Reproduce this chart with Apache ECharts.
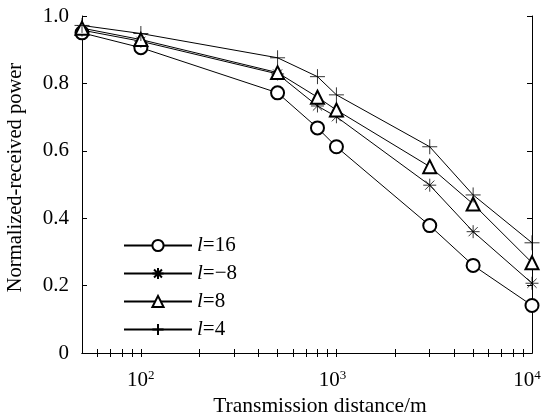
<!DOCTYPE html>
<html>
<head>
<meta charset="utf-8">
<script src="https://cdn.jsdelivr.net/npm/echarts@6/dist/echarts.min.js"></script>
<style>html,body{margin:0;padding:0;background:#fff;}#c{width:542px;height:417px;}</style>
</head>
<body>
<div id="c"></div>
<script>
const distances = [50, 100, 500, 800, 1000, 3000, 5000, 10000];
const l16 = [0.950, 0.906, 0.772, 0.668, 0.612, 0.378, 0.260, 0.141];
const lm8 = [0.958, 0.925, 0.828, 0.733, 0.701, 0.498, 0.360, 0.207];
const l8  = [0.964, 0.930, 0.832, 0.759, 0.721, 0.553, 0.442, 0.268];
const l4  = [0.972, 0.948, 0.876, 0.820, 0.766, 0.612, 0.469, 0.327];
const seriesNames = ['l=16', 'l=\u22128', 'l=8', 'l=4'];
const xTickValues = [60,70,80,90,100,200,300,400,500,600,700,800,900,1000,2000,3000,4000,5000,6000,7000,8000,9000];
const xLabelValues = [100, 1000, 10000];

const FONT = 'Liberation Serif';
const pair = arr => distances.map((d, i) => [d, arr[i]]);
const asterisk = 'path://M0,-10L0,10M-10,0L10,0M-7.07,-7.07L7.07,7.07M-7.07,7.07L7.07,-7.07';
const plus = 'path://M0,-10L0,10M-10,0L10,0';
const symbols = ['emptyCircle', asterisk, 'emptyTriangle', plus];
const sizes = [13, 13, 13, 15];
const datas = [l16, lm8, l8, l4];

const chart = echarts.init(document.getElementById('c'), null, {renderer: 'canvas'});
const axisCommon = {
  axisLine: {show: true, lineStyle: {color: '#000', width: 1}},
  splitLine: {show: false}
};
chart.setOption({
  animation: false,
  backgroundColor: '#fff',
  grid: {left: 82, right: 10, top: 16, bottom: 64, containLabel: false, outerBoundsMode: 'none'},
  legend: {
    left: 118, top: 230, orient: 'vertical',
    itemWidth: 68, itemHeight: 14, itemGap: 7,
    data: seriesNames,
    textStyle: {fontFamily: FONT, fontSize: 21, color: '#000', lineHeight: 20,
      rich: {i: {fontFamily: FONT, fontSize: 21, fontStyle: 'italic', color: '#000'},
             n: {fontFamily: FONT, fontSize: 21, color: '#000'}}},
    formatter: name => '{i|l}{n|' + name.slice(1) + '}'
  },
  xAxis: [{
    type: 'log', logBase: 10, min: 50, max: 10000, position: 'bottom',
    ...axisCommon,
    axisTick: {show: true, inside: true, length: 4, customValues: xTickValues, lineStyle: {color: '#000'}},
    minorTick: {show: false},
    axisLabel: {show: true, customValues: xLabelValues, margin: 16, color: '#000',
      formatter: v => {
        const e = Math.round(Math.log10(v));
        const shift = e === 4 ? '{p10|}' : (e === 3 ? '{p8|}' : '');
        return '{b|10}{s|' + e + '}' + shift;
      },
      rich: {b: {fontFamily: FONT, fontSize: 21, color: '#000'},
             s: {fontFamily: FONT, fontSize: 13, color: '#000', padding: [0, 0, 9, 0]},
             p10: {width: 10}, p8: {width: 8}}},
    name: 'Transmission distance/m', nameLocation: 'middle', nameGap: 42,
    nameTextStyle: {fontFamily: FONT, fontSize: 21.5, color: '#000', padding: [0, 0, 0, 26]}
  }, {
    type: 'log', logBase: 10, min: 50, max: 10000, position: 'top',
    ...axisCommon,
    axisTick: {show: true, inside: true, length: 4, customValues: xTickValues, lineStyle: {color: '#000'}},
    axisLabel: {show: false}
  }],
  yAxis: [{
    type: 'value', min: 0, max: 1, interval: 0.2, position: 'left',
    ...axisCommon,
    axisTick: {show: true, inside: true, length: 5, lineStyle: {color: '#000'}},
    axisLabel: {margin: 13, fontFamily: FONT, fontSize: 21, color: '#000',
      formatter: v => (v === 0 ? '0' : v.toFixed(1))},
    name: 'Normalized-received power', nameLocation: 'middle', nameGap: 56,
    nameTextStyle: {fontFamily: FONT, fontSize: 20.5, color: '#000', padding: [0, 0, 0, 14]}
  }, {
    type: 'value', min: 0, max: 1, interval: 0.2, position: 'right',
    ...axisCommon,
    axisTick: {show: true, inside: true, length: 5, lineStyle: {color: '#000'}},
    axisLabel: {show: false}
  }],
  series: seriesNames.map((name, k) => ({
    name: name, type: 'line', xAxisIndex: 0, yAxisIndex: 0,
    data: pair(datas[k]),
    symbol: symbols[k], symbolSize: sizes[k], showAllSymbol: true,
    color: '#000',
    lineStyle: {color: '#000', width: 1},
    itemStyle: {color: '#000', borderColor: '#000', borderWidth: 0.8},
    emphasis: {disabled: true}
  }))
});
</script>
</body>
</html>
